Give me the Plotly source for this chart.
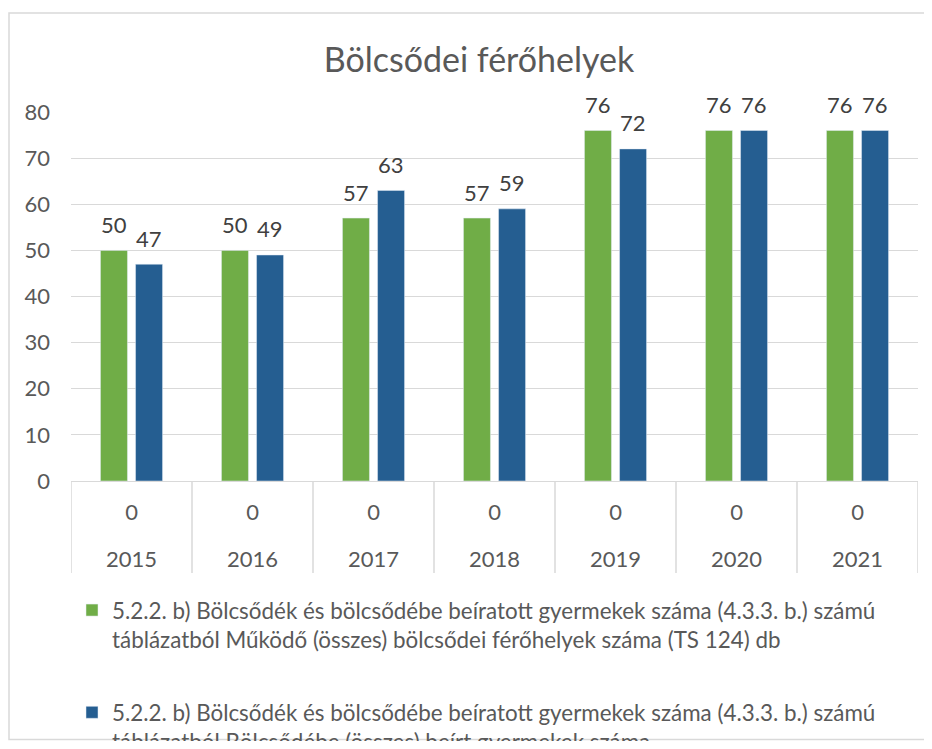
import plotly.graph_objects as go

years = ["2015", "2016", "2017", "2018", "2019", "2020", "2021"]
inner = ["0", "0", "0", "0", "0", "0", "0"]
ferohely = [50, 50, 57, 57, 76, 76, 76]
beirt = [47, 49, 63, 59, 72, 76, 76]
name1 = ("5.2.2. b) Bölcsődék és bölcsődébe beíratott gyermekek száma (4.3.3. b.) számú<br>"
         "táblázatból Működő (összes) bölcsődei férőhelyek száma (TS 124) db")
name2 = ("5.2.2. b) Bölcsődék és bölcsődébe beíratott gyermekek száma (4.3.3. b.) számú<br>"
         "táblázatból Bölcsődébe (összes) beírt gyermekek száma")

FONT = "Lato"
GREY = "#595959"
SZ = 22
# the page body has an 8px margin: figure coordinates = page coordinates - 8
OFF = 8
W, H = 932 - 2 * OFF, 749 - 2 * OFF
PL, PR, PT, PB = 71, 918, 112, 481  # plot area in page pixels
L, R, T, B = PL - OFF, W - (PR - OFF), PT - OFF, H - (PB - OFF)
PW, PH = W - L - R, H - T - B
idx = list(range(len(years)))


def py(page_y):
    """page y pixel -> paper y"""
    return ((PB - OFF) - (page_y - OFF)) / PH


def px(page_x):
    return ((page_x - OFF) - L) / PW


fig = go.Figure()
fig.add_trace(go.Bar(x=idx, y=ferohely, name=name1, marker_color="#70AD47",
                     legendgroup="a"))
fig.add_trace(go.Bar(x=idx, y=beirt, name=name2, marker_color="#255E91",
                     legendgroup="b"))

fig.update_layout(
    width=W, height=H,
    margin=dict(l=L, r=R, t=T, b=B, autoexpand=False),
    paper_bgcolor="white", plot_bgcolor="white",
    font=dict(family=FONT, size=SZ, color=GREY),
    title=dict(text="Bölcsődei férőhelyek", x=(479 - OFF) / W, xanchor="center",
               y=1 - (60 - OFF) / H, yanchor="middle",
               font=dict(family=FONT, size=34, color=GREY)),
    barmode="group", bargap=0.42, bargroupgap=0.23,
    showlegend=True,
    legend=dict(orientation="v", x=px(72), xanchor="left",
                y=py(589), yanchor="top", valign="top",
                font=dict(family=FONT, size=22.4, color=GREY),
                tracegroupgap=41, itemwidth=30, bgcolor="rgba(0,0,0,0)"),
    xaxis=dict(type="linear", range=[-0.5, len(years) - 0.5], automargin=False,
               showline=True, showgrid=False, zeroline=False,
               linecolor="#d9d9d9", linewidth=1, ticks="",
               tickmode="array", tickvals=idx, ticktext=inner,
               ticklabelstandoff=12,
               tickfont=dict(family=FONT, size=SZ, color=GREY)),
    yaxis=dict(range=[0, 80], dtick=10, automargin=False, showgrid=True,
               gridcolor="#d9d9d9", gridwidth=1, zeroline=False, showline=False,
               ticks="", ticklabelstandoff=20,
               tickfont=dict(family=FONT, size=SZ, color=GREY)),
)

# data labels
offset = 17.5
for vals, sh in ((ferohely, -offset), (beirt, offset)):
    for i, v in zip(idx, vals):
        fig.add_annotation(x=i, y=v, text=str(v), showarrow=False,
                           xref="x", yref="y", xshift=sh, yshift=26,
                           yanchor="middle", xanchor="center",
                           font=dict(family=FONT, size=SZ, color="#404040"))

# year row of the category table
for i, yr in zip(idx, years):
    fig.add_annotation(x=i, y=py(558), text=yr, showarrow=False,
                       xref="x", yref="paper", yanchor="middle",
                       font=dict(family=FONT, size=SZ, color=GREY))

# table dividers
for i in range(len(years) + 1):
    fig.add_shape(type="line", xref="x", yref="paper",
                  x0=i - 0.5, x1=i - 0.5, y0=0, y1=py(573),
                  line=dict(color="#d9d9d9", width=1.5))

# chart border (clamped to the figure area)
fig.add_shape(type="rect", xref="paper", yref="paper",
              x0=(1 - L) / PW, x1=px(960),
              y0=-(B - 1.5) / PH, y1=py(13),
              line=dict(color="#d9d9d9", width=1.5), fillcolor="rgba(0,0,0,0)",
              layer="above")

fig.write_html("out.html")
